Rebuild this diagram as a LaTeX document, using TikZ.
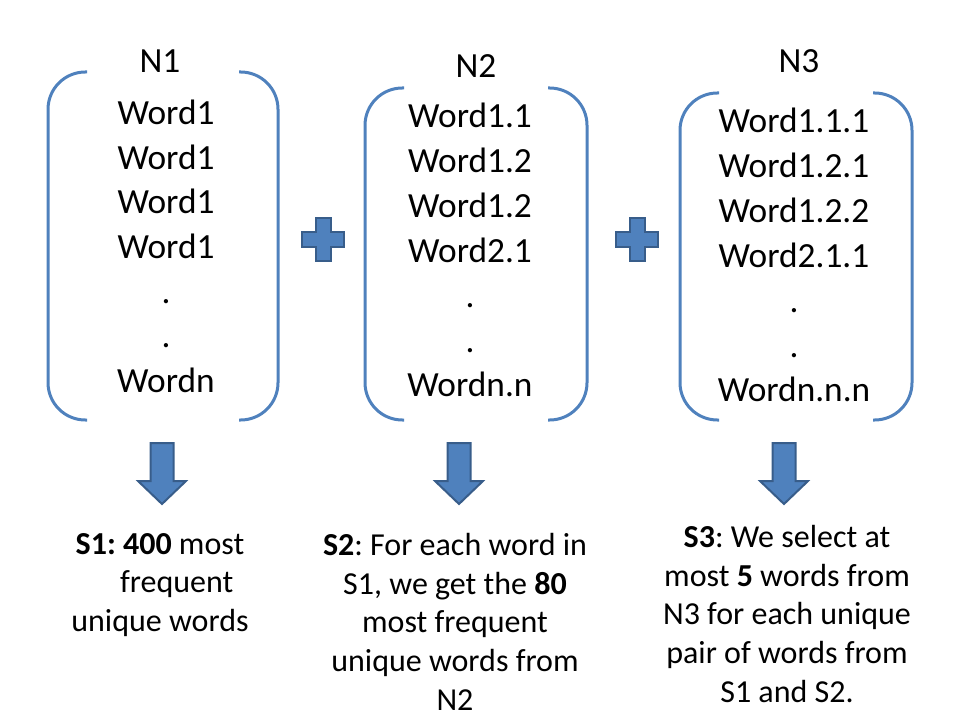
\documentclass[tikz,border=0pt]{standalone}
\usepackage{fontspec}
\setmainfont{Carlito}
\frenchspacing
\definecolor{accent}{HTML}{4F81BD}
\definecolor{accentdark}{HTML}{385D8A}

\begin{document}
\begin{tikzpicture}[x=0.75pt, y=-0.75pt,
    bracketline/.style={draw=accent, line width=2.25pt, rounded corners=28pt},
    blockshape/.style={fill=accent, draw=accentdark, line width=1.5pt},
    wordtext/.style={font=\fontsize{26.5}{33}\selectfont, anchor=base, inner sep=0pt},
    captext/.style={font=\fontsize{24}{29}\selectfont, align=center, anchor=north, inner sep=0pt}]

  \useasboundingbox (0,0) rectangle (960,720);

  % Bracket pairs round the three lists
  \foreach \lx/\rx/\ty in {48/278/72, 365/587/88, 680/912/93} {
    \draw[bracketline] (\lx+39,\ty) -- (\lx,\ty) -- (\lx,420) -- (\lx+39,420);
    \draw[bracketline] (\rx-39,\ty) -- (\rx,\ty) -- (\rx,420) -- (\rx-39,420);
  }

  % List titles
  \node[wordtext] (n1) at (160,73) {N1};
  \node[wordtext] (n2) at (476,78) {N2};
  \node[wordtext] (n3) at (799,73) {N3};

  % List entries
  \foreach \w [count=\i from 0] in {Word1, Word1, Word1, Word1, ., ., Wordn}
    \node[wordtext] (a\i) at (166,{125+44.5*\i}) {\w};
  \foreach \w [count=\i from 0] in {Word1.1, Word1.2, Word1.2, Word2.1, ., ., Wordn.n}
    \node[wordtext] (b\i) at (470,{128+44.8*\i}) {\w};
  \foreach \w [count=\i from 0] in {Word1.1.1, Word1.2.1, Word1.2.2, Word2.1.1, ., ., Wordn.n.n}
    \node[wordtext] (c\i) at (794,{133+44.8*\i}) {\w};

  % Plus signs between the lists
  \foreach \cx in {323, 637}
    \draw[blockshape] (\cx-7.5,218) -- (\cx+7.5,218) -- (\cx+7.5,232) -- (\cx+21,232)
      -- (\cx+21,247) -- (\cx+7.5,247) -- (\cx+7.5,261) -- (\cx-7.5,261) -- (\cx-7.5,247)
      -- (\cx-21,247) -- (\cx-21,232) -- (\cx-7.5,232) -- cycle;

  % Block arrows down to the steps
  \foreach \ax in {162, 459, 784}
    \draw[blockshape] (\ax-11.5,443) -- (\ax+11.5,443) -- (\ax+11.5,481) -- (\ax+24,481)
      -- (\ax,504) -- (\ax-24,481) -- (\ax-11.5,481) -- cycle;

  % Step descriptions
  \node[captext] (s1) at (160,533) {\textbf{S1: 400} most\\ \hspace*{25pt}frequent\\ unique words};
  \node[captext] (s2) at (455,533) {\textbf{S2}: For each word in\\ S1, we get the \textbf{80}\\ most frequent\\ unique words from\\ N2};
  \node[captext] (s3) at (787,525) {\textbf{S3}: We select at\\ most \textbf{5} words from\\ N3 for each unique\\ pair of words from\\ S1 and S2.};

\end{tikzpicture}
\end{document}
